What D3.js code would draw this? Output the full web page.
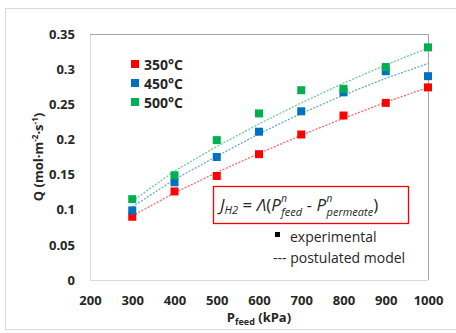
<!DOCTYPE html>
<html>
<head>
<meta charset="utf-8">
<script src="https://cdn.jsdelivr.net/npm/d3@7"></script>
<style>
	body { margin: 0; background: #fff; }
	svg { display: block; }
	text { font-family: "Open Sans", "Liberation Sans", sans-serif; }
</style>
</head>
<body>
<div id="wrapper"></div>
<script>

// data
const feed = [300, 400, 500, 600, 700, 800, 900, 1000];
const temps = ["350°C", "450°C", "500°C"];
const colors = ["#ff0000", "#0070c0", "#00b050"];

const exp350 = [0.090, 0.126, 0.148, 0.179, 0.207, 0.234, 0.252, 0.274];
const exp450 = [0.099, 0.139, 0.175, 0.211, 0.240, 0.267, 0.297, 0.290];
const exp500 = [0.115, 0.149, 0.199, 0.237, 0.270, 0.272, 0.303, 0.331];

const model350 = [0.091, 0.124, 0.153, 0.180, 0.206, 0.230, 0.253, 0.274];
const model450 = [0.104, 0.143, 0.176, 0.208, 0.237, 0.263, 0.287, 0.308];
const model500 = [0.112, 0.155, 0.190, 0.222, 0.252, 0.280, 0.306, 0.330];

const xTicks = [200, 300, 400, 500, 600, 700, 800, 900, 1000];
const yTicks = [0, 0.05, 0.1, 0.15, 0.2, 0.25, 0.3, 0.35];

const width = 456;
const height = 333;
const margin = { top: 34, right: 28, bottom: 53, left: 90 };

const svg = d3.select("#wrapper")
	.append("svg")
	.attr("width", width)
	.attr("height", height);

// outer frame
svg.append("rect")
	.attr("x", 5.5).attr("y", 8.5)
	.attr("width", 460).attr("height", 321)
	.attr("fill", "none")
	.attr("stroke", "#d9d9d9");

const x = d3.scaleLinear().domain([200, 1000]).range([margin.left, width - margin.right]);
const y = d3.scaleLinear().domain([0, 0.35]).range([height - margin.bottom, margin.top]);

// plot area borders
svg.append("line")
	.attr("x1", x(200)).attr("x2", x(1000)).attr("y1", y(0) + 0.5).attr("y2", y(0) + 0.5)
	.attr("stroke", "#d9d9d9");
svg.append("line")
	.attr("x1", x(200) + 0.5).attr("x2", x(200) + 0.5).attr("y1", y(0)).attr("y2", y(0.35))
	.attr("stroke", "#d9d9d9");
svg.append("line")
	.attr("x1", x(200)).attr("x2", x(1000)).attr("y1", y(0.35) + 0.5).attr("y2", y(0.35) + 0.5)
	.attr("stroke", "#a6a6a6");
svg.append("line")
	.attr("x1", x(1000) + 0.5).attr("x2", x(1000) + 0.5).attr("y1", y(0)).attr("y2", y(0.35))
	.attr("stroke", "#a6a6a6");

// axes (labels only)
const xAxis = svg.append("g")
	.attr("transform", `translate(0,${y(0)})`)
	.call(d3.axisBottom(x).tickValues(xTicks).tickSize(0).tickPadding(16).tickFormat(d3.format("d")));
const yAxis = svg.append("g")
	.attr("transform", `translate(${x(200)},0)`)
	.call(d3.axisLeft(y).tickValues(yTicks).tickSize(0).tickPadding(15).tickFormat(d => d3.format("")(+d.toFixed(2))));

[xAxis, yAxis].forEach(a => {
	a.select(".domain").remove();
	a.selectAll("text")
		.attr("font-family", "'Open Sans', 'Liberation Sans', sans-serif")
		.attr("font-size", 13)
		.attr("font-weight", "bold")
		.attr("fill", "#262626");
});

// axis titles
const xTitle = svg.append("text")
	.attr("x", (x(200) + x(1000)) / 2)
	.attr("y", 322)
	.attr("text-anchor", "middle")
	.attr("font-size", 13)
	.attr("font-weight", "bold")
	.attr("fill", "#262626");
xTitle.append("tspan").text("P");
xTitle.append("tspan").attr("font-size", 9).attr("dy", 3).text("feed");
xTitle.append("tspan").attr("dy", -3).text(" (kPa)");

const yTitle = svg.append("text")
	.attr("transform", `translate(43,${(y(0) + y(0.35)) / 2}) rotate(-90)`)
	.attr("text-anchor", "middle")
	.attr("font-size", 13)
	.attr("font-weight", "bold")
	.attr("fill", "#262626");
yTitle.append("tspan").text("Q (mol·m");
yTitle.append("tspan").attr("font-size", 8).attr("dy", -5).text("-2");
yTitle.append("tspan").attr("dy", 5).text("·s");
yTitle.append("tspan").attr("font-size", 8).attr("dy", -5).text("-1");
yTitle.append("tspan").attr("dy", 5).text(")");

// model lines
const models = [model350, model450, model500];
const line = d3.line().x((d, i) => x(feed[i])).y(d => y(d));

svg.selectAll(".model")
	.data(models)
	.enter()
	.append("path")
	.attr("class", "model")
	.attr("d", d => line(d))
	.attr("fill", "none")
	.attr("stroke", (d, i) => colors[i])
	.attr("stroke-opacity", 0.6)
	.attr("stroke-width", 1.3)
	.attr("stroke-dasharray", "2,1.5");

// experimental markers
const series = [exp350, exp450, exp500];
const s = 8;
series.forEach((vals, k) => {
	svg.selectAll(".pt" + k)
		.data(vals)
		.enter()
		.append("rect")
		.attr("class", "pt" + k)
		.attr("x", (d, i) => x(feed[i]) - s / 2)
		.attr("y", d => y(d) - s / 2)
		.attr("width", s)
		.attr("height", s)
		.attr("fill", colors[k]);
});

// legend
const legend = svg.append("g");
temps.forEach((t, i) => {
	legend.append("rect")
		.attr("x", 131).attr("y", 60 + i * 19)
		.attr("width", 8).attr("height", 8)
		.attr("fill", colors[i]);
	legend.append("text")
		.attr("x", 144).attr("y", 69.5 + i * 19)
		.attr("font-size", 14)
		.attr("font-weight", "bold")
		.attr("fill", "#262626")
		.text(t);
});

// equation box
svg.append("rect")
	.attr("x", 213.5).attr("y", 186.5)
	.attr("width", 195).attr("height", 37)
	.attr("fill", "#fff")
	.attr("stroke", "#ff0000")
	.attr("stroke-width", 1.3);

// equation: pieces placed one after another, super/subscripts as their own texts
const eqFont = "'DejaVu Serif', 'Liberation Serif', serif";
const eqParts = [
	{ t: "J", size: 17, dy: 0, italic: true },
	{ t: "H2", size: 11, dy: 3, italic: true },
	{ t: " = ", size: 17, dy: 0 },
	{ t: "Λ", size: 17, dy: 0, italic: true },
	{ t: "(", size: 17, dy: 0 },
	{ t: "P", size: 17, dy: 0, italic: true, sup: "n" },
	{ t: "feed", size: 11, dy: 5, italic: true },
	{ t: " - ", size: 17, dy: 0 },
	{ t: "P", size: 17, dy: 0, italic: true, sup: "n" },
	{ t: "permeate", size: 11, dy: 5, italic: true },
	{ t: ")", size: 17, dy: 0 }
];
let cx = 220;
const eqY = 211;
eqParts.forEach(p => {
	const el = svg.append("text")
		.attr("x", cx).attr("y", eqY + p.dy)
		.attr("font-family", eqFont)
		.attr("font-size", p.size)
		.attr("font-style", p.italic ? "italic" : "normal")
		.attr("fill", "#262626")
		.style("white-space", "pre")
		.text(p.t);
	const w = el.node().getComputedTextLength();
	if (p.sup) {
		svg.append("text")
			.attr("x", cx + w + 0.5).attr("y", eqY - 9)
			.attr("font-family", eqFont)
			.attr("font-size", 10)
			.attr("font-style", "italic")
			.attr("fill", "#262626")
			.text(p.sup);
	}
	cx += w + (p.sup ? 0.5 : 0);
});

// note legend
svg.append("rect")
	.attr("x", 275).attr("y", 232)
	.attr("width", 5).attr("height", 5)
	.attr("fill", "#000");
svg.append("text")
	.attr("x", 290).attr("y", 242)
	.attr("font-family", "'Liberation Sans', Arial, sans-serif")
	.attr("font-size", 14)
	.attr("fill", "#262626")
	.text("experimental");
svg.append("text")
	.attr("x", 273).attr("y", 263)
	.attr("font-family", "'Liberation Sans', Arial, sans-serif")
	.attr("font-size", 14)
	.attr("fill", "#262626")
	.text("--- postulated model");

</script>
</body>
</html>
